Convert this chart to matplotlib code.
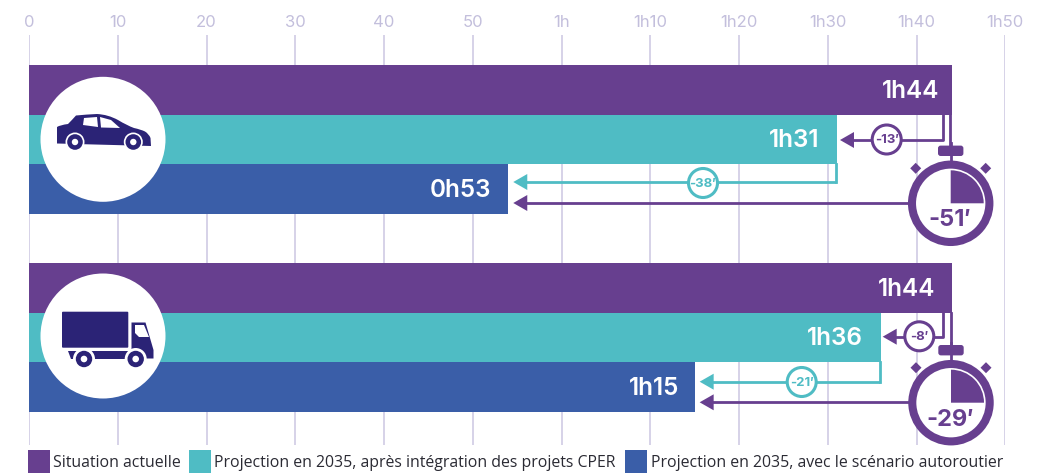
import matplotlib
matplotlib.use("Agg")
import matplotlib.pyplot as plt
from matplotlib.patches import Circle, Polygon, Wedge, FancyBboxPatch, Rectangle, PathPatch
from matplotlib.path import Path

# Data (minutes)
series_names = ["Situation actuelle",
                "Projection en 2035, après intégration des projets CPER",
                "Projection en 2035, avec le scénario autoroutier"]
car_values = [104, 91, 54]
truck_values = [104, 96, 75]
car_labels = ["1h44", "1h31", "0h53"]
truck_labels = ["1h44", "1h36", "1h15"]
car_deltas = ["-13′", "-38′", "-51′"]
truck_deltas = ["-8′", "-21′", "-29′"]
tick_values = [0, 10, 20, 30, 40, 50, 60, 70, 80, 90, 100, 110]
tick_labels = ["0", "10", "20", "30", "40", "50", "1h", "1h10", "1h20", "1h30", "1h40", "1h50"]

PURPLE = "#673f8f"
TEAL = "#4fbcc4"
BLUE = "#3a5ea8"
NAVY = "#2b2376"
GRID = "#d3cfe6"
TICK = "#c3bfdc"
colors = [PURPLE, TEAL, BLUE]

plt.rcParams["font.family"] = ["Inter", "DejaVu Sans"]

W, H = 1046, 473
X0, X1 = 29, 1005.3
fig = plt.figure(figsize=(W / 100, H / 100), dpi=100)

# main axes: x in minutes, y in image pixels
ax = fig.add_axes([X0 / W, 1 - 445 / H, (X1 - X0) / W, (445 - 35) / H])
ax.set_xlim(0, 110)
ax.set_ylim(445, 35)
ax.set_xticks(tick_values)
ax.set_xticklabels(tick_labels, color=TICK, fontsize=12)
ax.xaxis.tick_top()
ax.set_yticks([])
ax.tick_params(axis="x", length=0, pad=3.5)
ax.grid(axis="x", color=GRID, lw=1.3)
ax.set_axisbelow(True)
for s in ax.spines.values():
    s.set_visible(False)

# overlay in image pixels for icons and legend
ov = fig.add_axes([0, 0, 1, 1], facecolor="none")
ov.set_xlim(0, W)
ov.set_ylim(H, 0)
ov.axis("off")


def px(minutes):
    return X0 + minutes * (X1 - X0) / 110


def draw_bars(values, labels, top, label_right):
    edges = [top, top + 50, top + 99, top + 149]
    for i, v in enumerate(values):
        ax.barh((edges[i] + edges[i + 1]) / 2, v, height=edges[i + 1] - edges[i],
                color=colors[i], linewidth=0)
        ov.text(label_right[i], (edges[i] + edges[i + 1]) / 2 + 1, labels[i], color="white",
                ha="right", va="center", fontsize=17.5, fontweight=600)


def arrow(x_tip, y, x_from, color):
    ov.plot([x_tip + 10, x_from], [y, y], color=color, lw=2, solid_capstyle="butt")
    ov.add_patch(Polygon([(x_tip, y), (x_tip + 14, y - 8), (x_tip + 14, y + 8)],
                         fc=color, ec="none"))


def badge(x, y, text, color):
    ov.add_patch(Circle((x, y), 14.5, fc="white", ec=color, lw=2.2, zorder=3))
    ov.text(x, y + 0.5, text, color=color, ha="center", va="center",
            fontsize=9.5, fontweight="bold", zorder=4)


def stopwatch(cx, cy, text):
    ov.plot([cx, cx], [cy - 60, cy - 40], color=PURPLE, lw=2)
    ov.add_patch(FancyBboxPatch((cx - 12, cy - 57), 24, 9, boxstyle="round,pad=0,rounding_size=2",
                                fc=PURPLE, ec=PURPLE, lw=1))
    for sx in (-35, 35):
        ex, ey = cx + sx, cy - 35
        ov.add_patch(Polygon([(ex - 5.5, ey), (ex, ey - 5.5), (ex + 5.5, ey), (ex, ey + 5.5)],
                             fc=PURPLE, ec="none"))
    ov.add_patch(Circle((cx, cy), 38.7, fc="white", ec=PURPLE, lw=5.8, zorder=3))
    # y axis is inverted, so angles run clockwise from the right
    ov.add_patch(Wedge((cx, cy), 33, 270, 360, fc=PURPLE, ec="none", zorder=4))
    ov.text(cx - 1, cy + 17, text, color=PURPLE, ha="center", va="center",
            fontsize=17, fontweight="bold", zorder=5)


def draw_car():
    ov.add_patch(Circle((103, 139.3), 62.5, fc="white", ec="none", zorder=5))
    verts = [(57, 143.5), (57, 127), (60, 125), (68, 124),
             (72, 120), (76, 115.5), (86, 114.5), (97, 114), (108, 114.5), (118, 120), (127, 125.5),
             (134, 128), (141, 129.5), (145, 131.5), (149, 134), (150.5, 138), (151, 146),
             (57, 143.5)]
    codes = [Path.MOVETO, Path.LINETO, Path.CURVE3, Path.CURVE3,
             Path.CURVE3, Path.CURVE3, Path.CURVE3, Path.CURVE3, Path.CURVE3, Path.CURVE3, Path.CURVE3,
             Path.CURVE3, Path.CURVE3, Path.CURVE3, Path.CURVE3, Path.CURVE3, Path.LINETO,
             Path.CLOSEPOLY]
    ov.add_patch(PathPatch(Path(verts, codes), fc=NAVY, ec="none", zorder=6))
    ov.add_patch(Polygon([(83, 125), (84, 118), (97, 117), (98, 127)], fc="white", ec="none", zorder=7))
    ov.add_patch(Polygon([(100, 117), (111, 120), (120, 128), (101, 127.5)], fc="white", ec="none", zorder=7))
    for x in (75, 133.3):
        ov.add_patch(Circle((x, 142), 9.5, fc="white", ec="none", zorder=7))
        ov.add_patch(Circle((x, 142), 7.8, fc=NAVY, ec="none", zorder=8))
        ov.add_patch(Circle((x, 142), 3.2, fc="white", ec="none", zorder=9))


def draw_truck():
    ov.add_patch(Circle((103, 336), 62.5, fc="white", ec="none", zorder=5))
    ov.add_patch(FancyBboxPatch((62, 311.7), 66.3, 36, boxstyle="round,pad=0,rounding_size=1",
                                fc=NAVY, ec="none", zorder=6))
    cab = [(131.5, 322.5), (145.5, 322.5), (153.5, 350), (153.5, 358.5), (131.5, 358.5)]
    ov.add_patch(Polygon(cab, fc=NAVY, ec="none", zorder=6))
    ov.add_patch(Polygon([(135, 325), (144, 325), (149, 337), (139, 337), (135, 333)],
                         fc="white", ec="none", zorder=7))
    ov.add_patch(Polygon([(67.5, 351), (135, 351), (135, 358.5), (71, 358.5)], fc=NAVY, ec="none", zorder=6))
    for x in (84, 135.7):
        ov.add_patch(Circle((x, 359), 11, fc="white", ec="none", zorder=7))
        ov.add_patch(Circle((x, 359), 8.2, fc=NAVY, ec="none", zorder=8))
        ov.add_patch(Circle((x, 359), 3.3, fc="white", ec="none", zorder=9))


# car group
draw_bars(car_values, car_labels, 65, [939, 819, 491])
tip = px(car_values[2]) + 5
ov.plot([943, 943, 850], [115, 140, 140], color=PURPLE, lw=2)
ov.add_patch(Polygon([(840, 140), (854, 132), (854, 148)], fc=PURPLE, ec="none"))
badge(886.7, 139.5, car_deltas[0], PURPLE)
ov.plot([px(car_values[1]) - 1, px(car_values[1]) - 1], [164, 182], color=TEAL, lw=2)
arrow(tip, 182, px(car_values[1]) - 1, TEAL)
badge(703, 183, car_deltas[1], TEAL)
arrow(tip, 203, 915, PURPLE)
ov.plot([950, 950], [115, 148], color=PURPLE, lw=2)
stopwatch(950.7, 203.3, car_deltas[2])
draw_car()

# truck group
draw_bars(truck_values, truck_labels, 263, [935, 863, 679])
tip = px(truck_values[2]) + 5
ov.plot([943.3, 943.3, 892], [313, 336.7, 336.7], color=PURPLE, lw=2)
ov.add_patch(Polygon([(882.7, 336.7), (896.7, 328.7), (896.7, 344.7)], fc=PURPLE, ec="none"))
badge(919.3, 336.3, truck_deltas[0], PURPLE)
ov.plot([px(truck_values[1]) - 1, px(truck_values[1]) - 1], [362, 381.7], color=TEAL, lw=2)
arrow(tip, 381.7, px(truck_values[1]) - 1, TEAL)
badge(801.7, 382, truck_deltas[1], TEAL)
arrow(tip, 402.3, 915, PURPLE)
ov.plot([950.5, 950.5], [313, 347], color=PURPLE, lw=2)
stopwatch(951, 402.7, truck_deltas[2])
draw_truck()

# legend
for name, color, x0, xt in zip(series_names, colors, [28, 188.5, 625], [53, 214, 651]):
    ov.add_patch(Rectangle((x0, 450), 22, 23, fc=color, ec="none"))
    ov.text(xt, 463, name, color="#2a2a33", ha="left", va="center", fontsize=11.4,
            family=["Open Sans", "DejaVu Sans"])

fig.savefig("out.png", dpi=100)
